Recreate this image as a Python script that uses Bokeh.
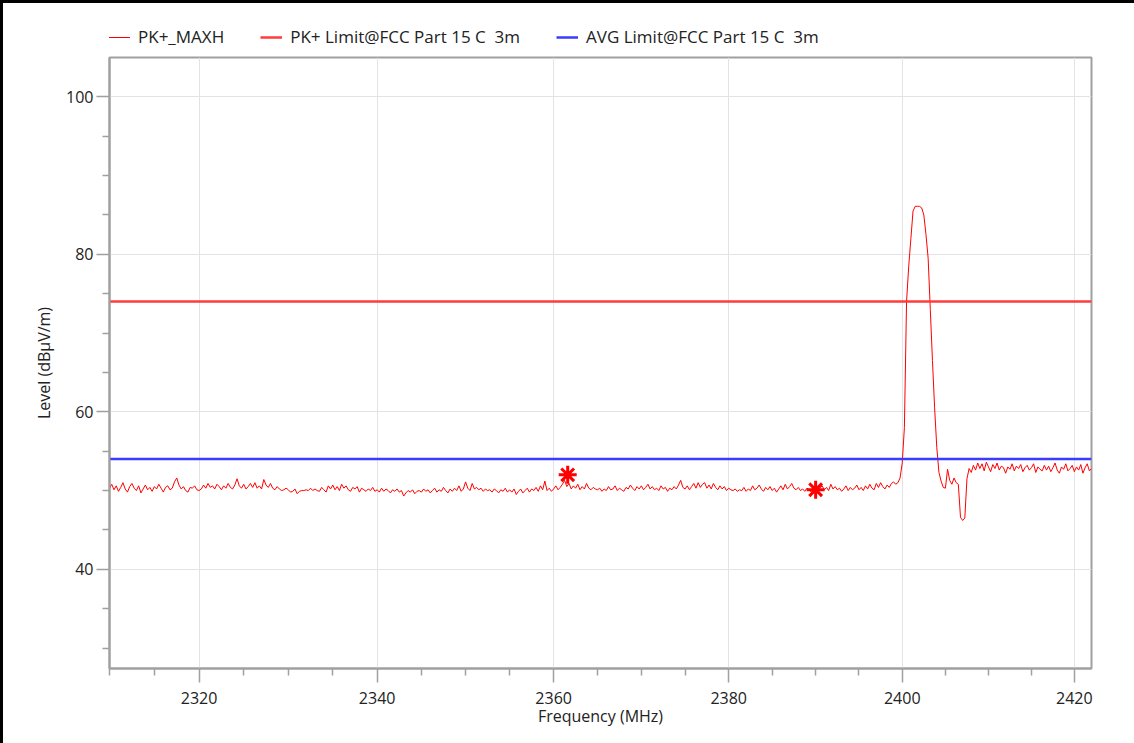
from bokeh.plotting import figure
from bokeh.layouts import column
from bokeh.models import Range1d, FixedTicker, NumeralTickFormatter, Legend, LegendItem
from bokeh.embed import file_html
from bokeh.resources import INLINE

# ---------------- data ----------------
f_start = 2310.0
f_stop = 2422.0
f_step = 0.25

# PK+_MAXH trace levels (dBuV/m), one value per 0.25 MHz from 2310 MHz
levels = [
    50.3, 50.8, 50.1, 50.6, 49.9, 50.4, 51.0, 50.2, 49.8, 50.5, 50.9, 50.3, 50.0, 50.6, 49.7, 50.2, 50.7, 50.1, 50.4, 49.9,
    50.5, 50.2, 50.8, 50.3, 49.8, 50.4, 50.6, 50.1, 50.3, 51.1, 51.6, 50.7, 50.2, 50.5, 50.0, 49.8, 50.4, 50.3, 50.6, 50.1,
    50.0, 50.2, 50.7, 50.3, 50.9, 50.4, 50.6, 50.2, 50.8, 50.5, 50.1, 50.6, 50.3, 50.9, 50.4, 50.2, 50.7, 51.5, 50.6, 50.3,
    50.8, 50.2, 50.5, 50.9, 50.4, 51.0, 50.3, 50.6, 50.2, 51.4, 50.7, 50.4, 50.9, 50.3, 50.1, 50.5, 50.2, 50.0, 50.1, 50.3,
    50.1, 49.8, 49.9, 50.2, 49.6, 49.9, 50.0, 50.0, 50.1, 50.0, 50.3, 50.0, 50.2, 50.0, 49.9, 50.4, 50.1, 49.8, 50.6, 50.2,
    50.7, 50.1, 50.5, 50.0, 50.8, 50.3, 50.6, 50.1, 49.9, 50.4, 50.2, 50.5, 49.8, 50.3, 50.1, 49.9, 50.2, 50.0, 50.4, 49.9,
    50.1, 49.8, 50.3, 49.9, 50.2, 50.0, 49.7, 50.1, 49.9, 50.2, 49.8, 50.0, 49.3, 49.7, 50.0, 49.8, 50.1, 49.6, 49.9, 50.0,
    49.8, 50.2, 49.9, 50.1, 49.7, 50.0, 50.3, 49.8, 50.1, 49.9, 50.4, 50.0, 49.7, 50.2, 49.9, 50.3, 50.0, 50.6, 49.9, 50.2,
    51.1, 50.3, 50.0, 50.9, 50.2, 50.4, 50.1, 50.3, 49.9, 50.2, 50.0, 50.1, 49.8, 50.2, 50.0, 49.7, 50.1, 49.9, 50.3, 49.8,
    50.1, 49.8, 50.2, 49.5, 49.9, 50.2, 49.7, 50.0, 50.3, 49.8, 50.2, 50.0, 50.4, 49.9, 50.6, 50.1, 51.2, 50.0, 50.3, 49.9,
    50.2, 50.6, 50.1, 50.4, 50.8, 51.3, 50.5, 50.9, 50.2, 50.6, 50.3, 50.8, 50.1, 50.5, 50.2, 50.9, 50.3, 50.1, 50.4, 50.2,
    50.1, 50.3, 49.9, 50.2, 50.0, 50.5, 50.1, 50.2, 50.6, 50.0, 50.3, 50.1, 49.9, 50.4, 50.2, 50.7, 50.3, 50.0, 50.5, 50.2,
    50.6, 50.1, 50.4, 50.8, 50.2, 50.5, 50.1, 50.3, 50.0, 50.6, 50.2, 50.4, 49.9, 50.3, 50.1, 50.5, 50.2, 50.7, 51.3, 50.4,
    50.2, 50.6, 50.1, 50.5, 50.9, 50.3, 51.0, 50.4, 50.8, 51.0, 50.3, 50.7, 50.2, 50.9, 50.4, 50.1, 50.6, 50.2, 50.5, 50.0,
    50.3, 50.1, 50.0, 50.2, 49.9, 50.1, 50.0, 50.4, 49.9, 50.2, 50.0, 50.6, 50.1, 50.3, 50.7, 50.2, 49.9, 50.4, 50.1, 50.5,
    50.0, 50.3, 49.8, 50.2, 50.6, 50.1, 50.8, 50.2, 50.5, 50.9, 50.3, 50.1, 50.4, 50.0, 50.2, 49.9, 50.3, 50.1, 49.8, 50.0,
    50.2, 49.9, 50.3, 50.6, 50.1, 50.4, 50.0, 50.8, 50.2, 50.5, 50.1, 50.3, 49.9, 50.2, 50.6, 50.0, 50.4, 50.1, 50.3, 50.7,
    50.1, 50.4, 50.0, 50.6, 50.2, 50.8, 50.3, 50.1, 50.9, 50.4, 51.0, 50.5, 50.2, 50.7, 50.4, 50.9, 51.1, 50.8, 51.0, 51.6,
    53.5, 58.0, 74.0, 78.5, 82.0, 85.5, 86.1, 86.1, 86.1, 85.9, 85.0, 82.5, 79.5, 73.0, 66.5, 60.5, 55.5, 52.3, 51.2, 50.4,
    50.3, 52.7, 51.3, 50.8, 51.6, 51.0, 50.8, 46.6, 46.2, 46.5, 51.5, 52.8, 52.3, 53.2, 52.6, 53.5, 52.8, 53.4, 52.5, 53.6,
    53.0, 52.4, 53.3, 52.8, 53.5, 52.6, 53.1, 52.9, 52.2, 53.0, 52.7, 53.4, 52.5, 53.1, 52.8, 53.3, 52.4, 52.9, 53.2, 52.6,
    52.9, 53.4, 52.3, 53.0, 52.7, 52.5, 53.2, 52.6, 53.1, 52.4, 52.9, 53.5, 52.6, 52.2, 53.0, 52.7, 53.4, 52.5, 52.8, 53.2,
    52.4, 53.0, 52.6, 53.3, 52.2, 52.9, 53.4, 52.5, 52.8,
]

# Limits
pk_limit = 74.0
avg_limit = 54.0

# Markers
marker_freq = [2361.6, 2390.0]
marker_level = [52.0, 50.1]

x_major = [2320, 2340, 2360, 2380, 2400, 2420]
x_minor = [2310, 2315, 2325, 2330, 2335, 2345, 2350, 2355, 2365, 2370, 2375,
           2385, 2390, 2395, 2405, 2410, 2415]
y_major = [40, 60, 80, 100]
y_minor = [30, 35, 45, 50, 55, 65, 70, 75, 85, 90, 95]

series_names = ["PK+_MAXH", "PK+ Limit@FCC Part 15 C  3m", "AVG Limit@FCC Part 15 C  3m"]

freqs = [f_start + i * f_step for i in range(len(levels))]
limit_x = [f_start, f_stop]

# ---------------- styles ----------------
FONT = "Open Sans"
AX = "#a0a0a0"
TRACE_C = "#ff0000"
PK_C = "#ff3b3b"
AVG_C = "#3b3bff"

# ---------------- legend strip (same series, drawn out of view) ----------------
lf = figure(width=1131, height=50, x_range=Range1d(0, 1), y_range=Range1d(0, 1),
            output_backend="svg", toolbar_location=None,
            x_axis_location=None, y_axis_location=None,
            min_border_left=106, min_border_right=43, min_border_top=0, min_border_bottom=0,
            background_fill_color="white", border_fill_color="white")
lf.outline_line_color = None
lf.xgrid.visible = False
lf.ygrid.visible = False
l_trace = lf.line(freqs, levels, line_color=TRACE_C, line_width=1)
l_pk = lf.line(limit_x, [pk_limit, pk_limit], line_color=PK_C, line_width=2.5)
l_avg = lf.line(limit_x, [avg_limit, avg_limit], line_color=AVG_C, line_width=2.5)
legend = Legend(items=[LegendItem(label=series_names[0], renderers=[l_trace]),
                       LegendItem(label=series_names[1], renderers=[l_pk]),
                       LegendItem(label=series_names[2], renderers=[l_avg])],
                orientation="horizontal", location=(-1, 5),
                border_line_color=None, background_fill_alpha=0,
                label_text_font=FONT, label_text_font_size="17px", label_text_color="#222222",
                glyph_width=22, label_standoff=8, spacing=36, padding=0, margin=0)
lf.add_layout(legend, "center")

# ---------------- main chart ----------------
p = figure(width=1131, height=690, x_axis_type="log",
           x_range=Range1d(2310, 2422), y_range=Range1d(27.4, 105.0),
           output_backend="svg", toolbar_location=None,
           min_border_left=106, min_border_right=43, min_border_top=4, min_border_bottom=75,
           background_fill_color="white", border_fill_color="white")

p.outline_line_color = AX
p.outline_line_width = 2

for ax in (p.xaxis[0], p.yaxis[0]):
    ax.axis_line_color = AX
    ax.axis_line_width = 2
    ax.major_tick_line_color = AX
    ax.minor_tick_line_color = AX
    ax.major_tick_line_width = 1.5
    ax.minor_tick_line_width = 1.5
    ax.major_tick_in = 0
    ax.minor_tick_in = 0
    ax.major_label_text_font = FONT
    ax.major_label_text_font_size = "16px"
    ax.major_label_text_color = "#222222"
    ax.axis_label_text_font = FONT
    ax.axis_label_text_font_size = "16px"
    ax.axis_label_text_font_style = "normal"
    ax.axis_label_text_color = "#222222"

xt = FixedTicker(ticks=x_major, minor_ticks=x_minor)
yt = FixedTicker(ticks=y_major, minor_ticks=y_minor)
p.xaxis.ticker = xt
p.yaxis.ticker = yt
p.xgrid.ticker = xt
p.ygrid.ticker = yt
p.xaxis.formatter = NumeralTickFormatter(format="0")
p.xaxis.major_tick_out = 14
p.xaxis.minor_tick_out = 7
p.yaxis.major_tick_out = 13
p.yaxis.minor_tick_out = 7
p.xaxis.major_label_standoff = 9
p.yaxis.major_label_standoff = 3
p.xaxis.axis_label = "Frequency (MHz)"
p.yaxis.axis_label = "Level (dBµV/m)"
p.xaxis.axis_label_standoff = -2
p.yaxis.axis_label_standoff = 8

p.xgrid.grid_line_color = "#e3e3e3"
p.ygrid.grid_line_color = "#e3e3e3"
p.xgrid.grid_line_width = 1
p.ygrid.grid_line_width = 1

p.line(freqs, levels, line_color=TRACE_C, line_width=1)
p.line(limit_x, [pk_limit, pk_limit], line_color=PK_C, line_width=2.5)
p.line(limit_x, [avg_limit, avg_limit], line_color=AVG_C, line_width=2.5)
p.scatter(marker_freq, marker_level, marker="asterisk", size=18,
          line_color=TRACE_C, line_width=3)

layout = column(lf, p, spacing=0)
layout.styles = {"border-left": "3px solid black", "border-top": "3px solid black"}

open("out.html", "w").write(file_html(layout, INLINE))
